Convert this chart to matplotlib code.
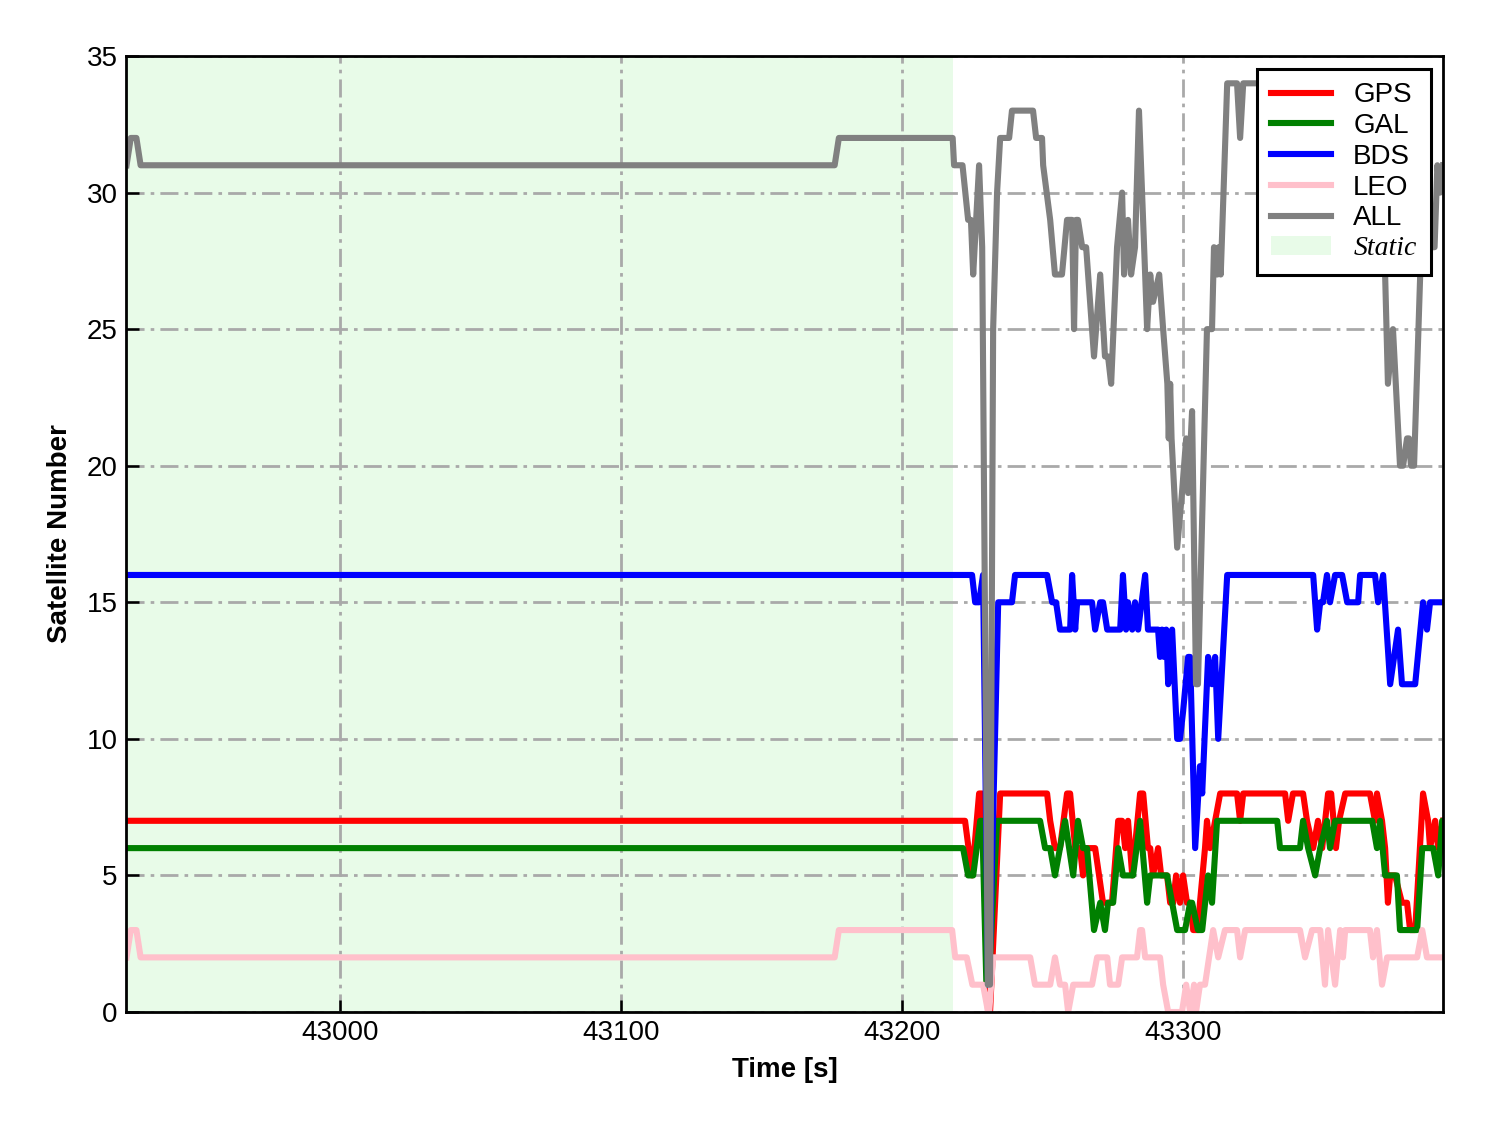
import matplotlib
matplotlib.use("Agg")
import matplotlib.pyplot as plt
from matplotlib.font_manager import FontProperties

# ---------------- data (time [s], satellite count) ----------------
all_t = [42924, 42925.5, 42927.5, 42929, 43176, 43177.5, 43218, 43218.5, 43221.5, 43223.5,
         43224.5, 43225.3, 43227.4, 43228.5, 43230.5, 43231.3, 43232.4, 43233.8, 43234.9, 43238.1,
         43239.1, 43246.6, 43247.7, 43249.8, 43250.2, 43252.7, 43254.4, 43256.9, 43258.7, 43260.5,
         43261.2, 43261.9, 43262.6, 43264.1, 43265.5, 43268.3, 43270.5, 43272.2, 43273.3, 43274.4,
         43276.5, 43278.3, 43279.0, 43280.4, 43281.5, 43282.9, 43284.3, 43286.5, 43287.2, 43288.3,
         43289.3, 43291.5, 43292.9, 43294.4, 43294.9, 43295.4, 43295.9, 43297.9, 43299.6, 43301.1,
         43301.8, 43303.2, 43304.6, 43305.3, 43308.5, 43310.3, 43311.0, 43312.2, 43312.7, 43313.4,
         43315.7, 43319.2, 43320.3, 43321.4, 43333.0, 43334.5, 43336.0, 43338.0, 43340.0, 43344.0,
         43346.0, 43348.0, 43350.0, 43351.0, 43352.0, 43354.0, 43356.0, 43366.0, 43368.0, 43369.5,
         43371.0, 43371.9, 43372.9, 43374.7, 43377.2, 43378.3, 43379.7, 43380.4, 43381.1, 43382.2,
         43384.7, 43386.0, 43387.5, 43388.5, 43389.5, 43390.5, 43391.5, 43392.5]
all_v = [31, 32, 32, 31, 31, 32, 32, 31, 31, 29,
         29, 27, 31, 28, 1, 1, 25, 30, 32, 32,
         33, 33, 32, 32, 31, 29, 27, 27, 29, 29,
         25, 29, 29, 28, 28, 24, 27, 24, 24, 23,
         28, 30, 27, 29, 27, 28, 33, 27, 25, 27,
         26, 27, 25, 23, 21, 23, 21, 17, 19, 21,
         19, 22, 12, 12, 25, 25, 28, 27, 28, 27,
         34, 34, 32, 34, 34, 33, 34, 33, 34, 32,
         34, 31, 32, 30, 33, 31, 33, 33, 32, 33,
         29, 27, 23, 25, 20, 20, 21, 21, 20, 20,
         28, 30, 30, 28, 28, 31, 30, 31]

bds_t = [42924, 43224.9, 43226.0, 43227.4, 43228.8, 43230.6, 43231.0, 43234.2, 43239.1, 43240.2,
         43251.6, 43253.4, 43254.8, 43256.2, 43259.8, 43260.5, 43261.6, 43262.3, 43267.6, 43268.7,
         43270.5, 43271.5, 43273.0, 43277.6, 43278.6, 43279.7, 43280.4, 43281.9, 43282.9, 43284.0,
         43286.5, 43287.5, 43291.1, 43291.8, 43292.5, 43293.2, 43294.0, 43294.7, 43296.1, 43297.9,
         43298.9, 43300.0, 43301.8, 43302.5, 43304.3, 43306.0, 43306.8, 43308.9, 43310.3, 43311.4,
         43312.5, 43315.7, 43346.3, 43347.7, 43348.8, 43349.8, 43351.2, 43352.3, 43354.1, 43356.6,
         43358.4, 43362.3, 43363.0, 43368.3, 43369.4, 43371.2, 43373.7, 43376.5, 43377.9, 43382.6,
         43385.4, 43386.8, 43387.9, 43392.5]
bds_v = [16, 16, 15, 15, 16, 1, 1, 15, 15, 16,
         16, 15, 15, 14, 14, 16, 14, 15, 15, 14,
         15, 15, 14, 14, 16, 14, 15, 14, 15, 14,
         16, 14, 14, 13, 14, 13, 14, 12, 14, 10,
         10, 11, 13, 13, 6, 9, 8, 13, 12, 13,
         10, 16, 16, 14, 15, 15, 16, 15, 16, 16,
         15, 15, 16, 16, 15, 16, 12, 14, 12, 12,
         15, 14, 15, 15]

gps_t = [42924, 43222.4, 43224.9, 43227.4, 43228.5, 43230.6, 43231.3, 43234.9, 43251.6, 43252.7,
         43254.4, 43256.2, 43258.7, 43259.8, 43261.6, 43263.3, 43264.4, 43265.5, 43267.6, 43268.7,
         43271.5, 43274.7, 43276.9, 43278.3, 43279.4, 43280.4, 43281.9, 43284.7, 43285.8, 43287.5,
         43288.3, 43289.3, 43291.1, 43292.2, 43294.3, 43295.4, 43296.5, 43297.5, 43298.9, 43300.0,
         43301.4, 43302.5, 43303.6, 43305.3, 43306.0, 43307.8, 43308.5, 43309.6, 43311.4, 43313.2,
         43319.2, 43320.3, 43321.4, 43336.3, 43337.4, 43339.1, 43342.7, 43344.1, 43346.3, 43348.0,
         43349.5, 43351.6, 43352.7, 43354.4, 43355.5, 43357.7, 43366.5, 43368.3, 43369.0, 43370.8,
         43371.9, 43372.9, 43373.7, 43375.4, 43377.9, 43379.7, 43380.8, 43382.6, 43385.4, 43387.2,
         43387.9, 43389.7, 43390.8, 43392.5]
gps_v = [7, 7, 5, 8, 8, 0, 0, 8, 8, 7,
         6, 6, 8, 8, 6, 6, 5, 6, 6, 6,
         4, 4, 7, 7, 6, 7, 5, 8, 8, 6,
         6, 5, 6, 5, 5, 4, 4, 5, 4, 5,
         4, 4, 3, 3, 4, 6, 7, 6, 7, 8,
         8, 7, 8, 8, 7, 8, 8, 7, 6, 7,
         6, 8, 8, 6, 7, 8, 8, 7, 8, 7,
         6, 4, 5, 5, 4, 4, 3, 3, 8, 7,
         6, 7, 6, 7]

gal_t = [42924, 43221.7, 43223.5, 43225.3, 43227.8, 43228.5, 43230.0, 43230.8, 43233.8, 43249.1,
         43250.9, 43252.7, 43254.4, 43258.0, 43260.9, 43262.6, 43264.4, 43265.8, 43268.3, 43270.5,
         43272.2, 43273.3, 43275.1, 43276.9, 43278.6, 43282.2, 43284.7, 43287.2, 43288.3, 43294.3,
         43296.1, 43297.9, 43300.7, 43302.5, 43303.2, 43305.3, 43306.8, 43308.9, 43310.3, 43312.1,
         43333.5, 43334.5, 43341.6, 43342.7, 43344.5, 43347.0, 43348.8, 43351.2, 43352.3, 43354.1,
         43367.3, 43369.0, 43370.1, 43371.9, 43376.1, 43377.2, 43383.3, 43385.1, 43389.0, 43390.8,
         43392.2, 43392.5]
gal_v = [6, 6, 5, 5, 7, 7, 1, 1, 7, 7,
         6, 6, 5, 7, 5, 7, 6, 6, 3, 4,
         3, 4, 4, 6, 5, 5, 7, 4, 5, 5,
         4, 3, 3, 4, 4, 3, 3, 5, 4, 7,
         7, 6, 6, 7, 6, 5, 6, 7, 6, 7,
         7, 6, 7, 5, 5, 3, 3, 6, 6, 5,
         7, 7]

leo_t = [42924, 42925.5, 42927.5, 42929, 43176, 43177.5, 43217.8, 43218.9, 43223.0, 43225.0,
         43228.8, 43230.6, 43231.0, 43232.4, 43245.6, 43247.3, 43252.7, 43254.4, 43256.2, 43258.0,
         43259.1, 43260.9, 43267.6, 43269.4, 43273.0, 43274.0, 43276.9, 43278.3, 43283.6, 43284.7,
         43285.4, 43286.5, 43291.8, 43292.9, 43294.7, 43299.6, 43301.1, 43302.5, 43303.9, 43304.6,
         43306.0, 43307.8, 43310.7, 43312.5, 43314.9, 43319.2, 43320.3, 43322.1, 43341.6, 43343.4,
         43345.9, 43348.8, 43350.5, 43351.6, 43354.1, 43355.9, 43356.9, 43357.7, 43366.5, 43367.6,
         43369.0, 43370.8, 43372.6, 43383.3, 43385.1, 43386.8, 43392.5]
leo_v = [2, 3, 3, 2, 2, 3, 3, 2, 2, 1,
         1, 0, 0, 2, 2, 1, 1, 2, 1, 1,
         0, 1, 1, 2, 2, 1, 1, 2, 2, 3,
         3, 2, 2, 1, 0, 0, 1, 0, 1, 0,
         1, 1, 3, 2, 3, 3, 2, 3, 3, 2,
         3, 3, 1, 3, 1, 3, 2, 3, 3, 2,
         3, 1, 2, 2, 3, 2, 2]

static_start, static_end = 42924, 43218
x_ticks = [43000, 43100, 43200, 43300]
y_ticks = [0, 5, 10, 15, 20, 25, 30, 35]

# ---------------- plotting ----------------
plt.rcParams['font.family'] = ['Liberation Sans', 'DejaVu Sans']
fig = plt.figure(figsize=(14.88, 11.33), dpi=100)
ax = fig.add_axes([126/1488, 1-1012/1133, (1443-126)/1488, (1012-56)/1133])

lw = 4.4
ax.axvspan(static_start, static_end, color='lightgreen', alpha=0.2, lw=0, label='Static', zorder=0.4)
ax.plot(gps_t, gps_v, color='red', lw=lw, label='GPS', zorder=2)
ax.plot(gal_t, gal_v, color='green', lw=lw, label='GAL', zorder=2.1)
ax.plot(bds_t, bds_v, color='blue', lw=lw, label='BDS', zorder=2.2)
ax.plot(leo_t, leo_v, color='pink', lw=lw, label='LEO', zorder=2.3)
ax.plot(all_t, all_v, color='gray', lw=lw, label='ALL', zorder=2.4)

ax.set_xlim(42923.8, 43392.5)
ax.set_ylim(0, 35)
ax.set_xticks(x_ticks)
ax.set_yticks(y_ticks)
ax.set_axisbelow(True)
ax.grid(True, color='#a9a9a9', lw=2.0, linestyle=(0, (6.5, 2.2, 1.3, 2.2)), zorder=0.5)

ax.tick_params(direction='in', length=9, width=1.8, labelsize=20, pad=6)
for s in ax.spines.values():
    s.set_linewidth(2.0)

ax.set_xlabel('Time [s]', fontsize=20, fontweight='bold', labelpad=8)
ax.set_ylabel('Satellite Number', fontsize=20, fontweight='bold', labelpad=10)

handles, labels = ax.get_legend_handles_labels()
order = ['GPS', 'GAL', 'BDS', 'LEO', 'ALL', 'Static']
hmap = dict(zip(labels, handles))
leg = ax.legend([hmap[k] for k in order], order, loc='upper right', fontsize=20,
                frameon=True, fancybox=False, edgecolor='black', framealpha=1,
                labelspacing=0.17, handlelength=2.15, handletextpad=0.8,
                borderpad=0.5, borderaxespad=0.45)
leg.get_frame().set_linewidth(2.2)
leg.texts[-1].set_fontproperties(FontProperties(family='Liberation Serif', style='italic', size=20))

fig.savefig('out.png', dpi=100)
